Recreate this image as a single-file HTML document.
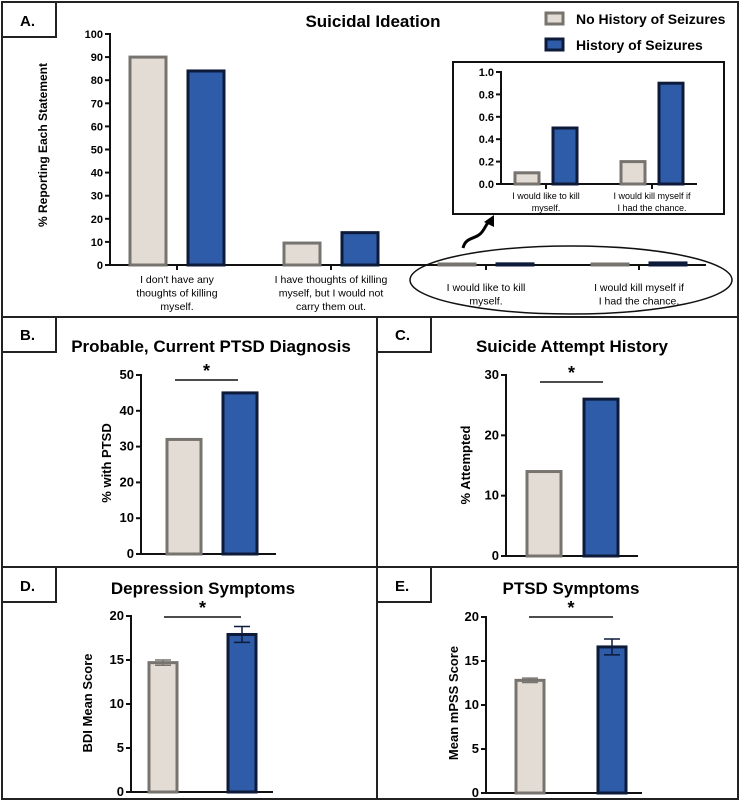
<!DOCTYPE html>
<html><head><meta charset="utf-8"><style>
html,body{margin:0;padding:0;background:#fff;}
svg{display:block;font-family:"Liberation Sans",sans-serif;}
.lbl{font-weight:bold;font-size:15px;}
.ttl{font-weight:bold;font-size:17px;}
.tick{font-weight:bold;font-size:11px;}
.tk2{font-size:13px;font-weight:bold;}
.cat{font-size:10.5px;}
</style></head><body>
<svg id="fig" width="740" height="803" viewBox="0 0 740 803">
<g fill="none" stroke="#222" stroke-width="2">
<rect x="2" y="2" width="736" height="797"/>
<line x1="2" y1="317" x2="738" y2="317"/>
<line x1="2" y1="567" x2="738" y2="567"/>
<line x1="377" y1="317" x2="377" y2="799"/>
<rect x="2" y="2" width="54" height="35"/>
<rect x="2" y="317" width="54" height="35"/>
<rect x="377" y="317" width="54" height="35"/>
<rect x="2" y="567" width="54" height="35"/>
<rect x="377" y="567" width="54" height="35"/>
</g>
<text class="lbl" x="20" y="26">A.</text>
<text class="lbl" x="20" y="340">B.</text>
<text class="lbl" x="395" y="340">C.</text>
<text class="lbl" x="20" y="591">D.</text>
<text class="lbl" x="395" y="591">E.</text>
<text class="ttl" x="373" y="27" text-anchor="middle">Suicidal Ideation</text>
<text class="ttl" x="211" y="352" text-anchor="middle" font-size="16">Probable, Current PTSD Diagnosis</text>
<text class="ttl" x="572" y="352" text-anchor="middle">Suicide Attempt History</text>
<text class="ttl" x="203" y="594" text-anchor="middle">Depression Symptoms</text>
<text class="ttl" x="571" y="594" text-anchor="middle">PTSD Symptoms</text>
<g>
<rect x="546" y="13" width="17" height="11" fill="#e3dcd5" stroke="#77736e" stroke-width="3"/>
<text x="576" y="24" font-weight="bold" font-size="14">No History of Seizures</text>
<rect x="546" y="39" width="17" height="11" fill="#2e5ca8" stroke="#0d1a3a" stroke-width="3"/>
<text x="576" y="50" font-weight="bold" font-size="14">History of Seizures</text>
</g>
<rect x="453" y="62" width="271" height="152" fill="none" stroke="#111" stroke-width="2"/>
<ellipse cx="571" cy="280" rx="161" ry="34" fill="none" stroke="#111" stroke-width="1.5"/>
<path d="M463,248 C466,236 476,240 482,232 C486,227 486,224 489,222" fill="none" stroke="#000" stroke-width="3"/>
<polygon points="494,215 484,222 494,227" fill="#000"/>
<g id="charts"></g>
</svg>
<script>
// Panel A
const aCategories=[["I don't have any","thoughts of killing","myself."],["I have thoughts of killing","myself, but I would not","carry them out."],["I would like to kill","myself."],["I would kill myself if","I had the chance."]];
const aNoHistory=[90,9.5,0.1,0.2];
const aHistory=[84,14,0.5,0.9];
const aTicks=[0,10,20,30,40,50,60,70,80,90,100];
// Inset
const insetCategories=[["I would like to kill","myself."],["I would kill myself if","I had the chance."]];
const insetNoHistory=[0.1,0.2];
const insetHistory=[0.5,0.9];
const insetTicks=["0.0","0.2","0.4","0.6","0.8","1.0"];
// Panels B-E
const bValues=[32,45];
const bTicks=[0,10,20,30,40,50];
const cValues=[14,26];
const cTicks=[0,10,20,30];
const dValues=[14.7,17.9];
const dErrors=[0.3,0.9];
const dTicks=[0,5,10,15,20];
const eValues=[12.8,16.6];
const eErrors=[0.25,0.9];
const eTicks=[0,5,10,15,20];

const NS="http://www.w3.org/2000/svg";
const root=document.getElementById('charts');
const FILL=["#e3dcd5","#2e5ca8"],STROKE=["#77736e","#0d1a3a"];
function mk(tag,attrs,parent){const e=document.createElementNS(NS,tag);for(const k in attrs)e.setAttribute(k,attrs[k]);(parent||root).appendChild(e);return e;}
function scale(d0,d1,r0,r1){return v=>r0+(v-d0)*(r1-r0)/(d1-d0);}

function axis(cfg){
  const y=scale(0,cfg.max,cfg.y0,cfg.y1);
  const ax=mk('line',{x1:cfg.x,y1:cfg.y1-1,x2:cfg.x,y2:cfg.y0,stroke:'#111','stroke-width':2});
  
  
  const xa=mk('line',{x1:cfg.x,y1:cfg.y0,x2:cfg.xEnd,y2:cfg.y0,stroke:'#111','stroke-width':2});
  
  
  cfg.ticks.forEach(t=>{
    const yy=y(parseFloat(t));
    const tl=mk('line',{x1:cfg.x-5,y1:yy,x2:cfg.x,y2:yy,stroke:'#111','stroke-width':2});
    
    
    const tx=mk('text',{x:cfg.x-7,y:yy+4,'text-anchor':'end','class':cfg.tcls||'tick'});
    tx.textContent=t;
    
    
  });
  return y;
}
function bar(x,w,y,yv,i,name){
  const top=y(yv),base=y(0);
  const r=mk('rect',{x:x-w/2,y:Math.min(top,base-1),width:w,height:Math.max(base-top,1),fill:FILL[i],stroke:STROKE[i],'stroke-width':3});
  
  
}

// Panel A
(function(){
  const y=axis({name:'panel-a',x:110,y0:265,y1:34,max:100,xEnd:706,ticks:aTicks});
  const cx=[177,331,486,639];
  aCategories.forEach((c,i)=>{
    const t=mk('line',{x1:cx[i],y1:265,x2:cx[i],y2:270,stroke:'#111','stroke-width':2});
    
    
    bar(cx[i]-29,36,y,aNoHistory[i],0,'panel-a-bar-no-history-'+i);
    bar(cx[i]+29,36,y,aHistory[i],1,'panel-a-bar-history-'+i);
    const ly=i<2?283:291;
    c.forEach((line,j)=>{
      const tx=mk('text',{x:cx[i],y:ly+j*13.5,'text-anchor':'middle','class':'cat'});
      tx.textContent=line;
      
      
    });
  });
  const yt=mk('text',{x:0,y:0,transform:'translate(47,145) rotate(-90)','text-anchor':'middle','font-size':'12','font-weight':'bold'});
  yt.textContent='% Reporting Each Statement';
  
  
})();
// Inset
(function(){
  const y=axis({name:'inset',x:501,y0:184,y1:72,max:1,xEnd:697,ticks:insetTicks});
  const cx=[546,652];
  insetCategories.forEach((c,i)=>{
    const t=mk('line',{x1:cx[i],y1:184,x2:cx[i],y2:189,stroke:'#111','stroke-width':2});
    
    
    bar(cx[i]-19,24,y,insetNoHistory[i],0,'inset-bar-no-history-'+i);
    bar(cx[i]+19,24,y,insetHistory[i],1,'inset-bar-history-'+i);
    c.forEach((line,j)=>{
      const tx=mk('text',{x:cx[i],y:199+j*12,'text-anchor':'middle','font-size':'9'});
      tx.textContent=line;
      
      
    });
  });
})();
function small(cfg){
  const y=axis({name:cfg.name,x:cfg.x,y0:cfg.y0,y1:cfg.y1,max:cfg.ticks[cfg.ticks.length-1],xEnd:cfg.xEnd,ticks:cfg.ticks,tcls:'tk2'});
  cfg.vals.forEach((v,i)=>{
    bar(cfg.bx[i],cfg.bw,y,v,i,cfg.name+(i?'-bar-history':'-bar-no-history'));
    if(cfg.err){
      const t=y(v+cfg.err[i]),b=y(v-cfg.err[i]);
      const e=mk('path',{d:`M${cfg.bx[i]},${t}V${b}M${cfg.bx[i]-8},${t}H${cfg.bx[i]+8}M${cfg.bx[i]-8},${b}H${cfg.bx[i]+8}`,stroke:STROKE[i],'stroke-width':1.5,fill:'none'});
      
      
    }
  });
  const s=mk('line',{x1:cfg.sig[0],y1:cfg.sigY,x2:cfg.sig[1],y2:cfg.sigY,stroke:'#111','stroke-width':1.5});
  
  
  const st=mk('text',{x:(cfg.sig[0]+cfg.sig[1])/2,y:cfg.sigY-3,'text-anchor':'middle','font-size':'18','font-weight':'bold'});
  st.textContent='*';
  
  
  const yt=mk('text',{x:0,y:0,transform:`translate(${cfg.tx},${cfg.ty}) rotate(-90)`,'text-anchor':'middle','font-size':'13','font-weight':'bold'});
  yt.textContent=cfg.title;
  
  
}
small({name:'panel-b',x:141,y0:554,y1:375,xEnd:276,ticks:bTicks,vals:bValues,bx:[184,240],bw:34,sig:[175,238],sigY:380,title:'% with PTSD',tx:111,ty:463});
small({name:'panel-c',x:506,y0:556,y1:375,xEnd:638,ticks:cTicks,vals:cValues,bx:[544,601],bw:34,sig:[540,603],sigY:382,title:'% Attempted',tx:470,ty:465});
small({name:'panel-d',x:131,y0:792,y1:616,xEnd:273,ticks:dTicks,vals:dValues,err:dErrors,bx:[163,242],bw:28,sig:[164,241],sigY:617,title:'BDI Mean Score',tx:92,ty:703});
small({name:'panel-e',x:486,y0:793,y1:617,xEnd:642,ticks:eTicks,vals:eValues,err:eErrors,bx:[530,612],bw:28,sig:[529,613],sigY:617,title:'Mean mPSS Score',tx:458,ty:703});
</script>
</body></html>
